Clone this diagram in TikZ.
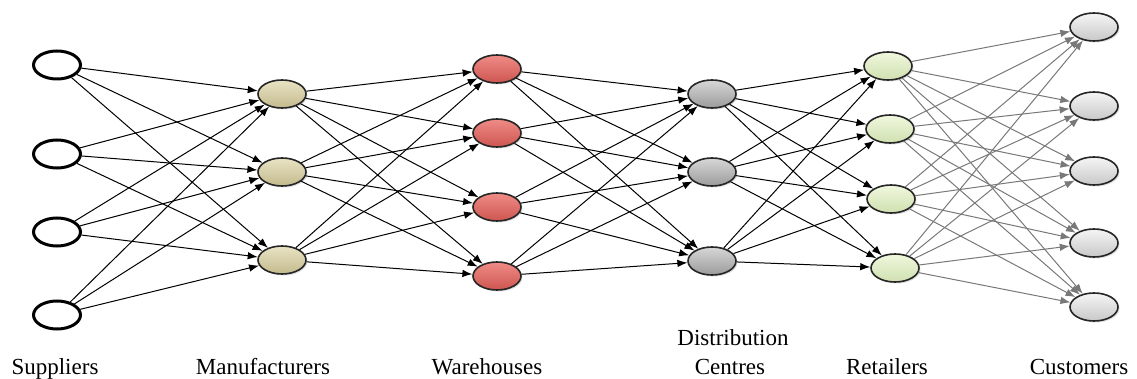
\documentclass[tikz,border=0pt]{standalone}
\usepackage{fontspec}
\setmainfont{Liberation Serif}
\usetikzlibrary{shapes.geometric,arrows.meta,shadows}
\definecolor{manT}{RGB}{232,227,195}
\definecolor{manB}{RGB}{196,186,142}
\definecolor{warT}{RGB}{240,140,135}
\definecolor{warB}{RGB}{205,85,80}
\definecolor{dcT}{RGB}{215,215,215}
\definecolor{dcB}{RGB}{155,155,155}
\definecolor{retT}{RGB}{240,248,222}
\definecolor{retB}{RGB}{208,224,176}
\definecolor{cusT}{RGB}{245,245,245}
\definecolor{cusB}{RGB}{200,200,200}
\definecolor{edgegray}{RGB}{120,120,120}
\tikzset{
  sup/.style={ellipse, draw=black, line width=3pt, fill=white, minimum width=47pt, minimum height=28pt, inner sep=0pt},
  pt/.style={ellipse, draw=black!85, line width=1.6pt, minimum width=48pt, minimum height=28pt, inner sep=0pt,
     drop shadow={shadow xshift=1.5pt, shadow yshift=-1.5pt, opacity=0.25}},
  man/.style={pt, top color=manT, bottom color=manB},
  war/.style={pt, top color=warT, bottom color=warB},
  dc/.style={pt, top color=dcT, bottom color=dcB},
  ret/.style={pt, top color=retT, bottom color=retB},
  cus/.style={pt, top color=cusT, bottom color=cusB},
  link/.style={draw=black, line width=1pt, -{Latex[length=10pt,width=7.5pt]}},
  glink/.style={draw=edgegray, line width=1pt, -{Latex[length=10pt,width=7.5pt]}},
  lbl/.style={font=\fontsize{23}{25}\selectfont, anchor=base, inner sep=0pt}
}
\begin{document}
\begin{tikzpicture}[x=1pt,y=-1pt]
\useasboundingbox (0,0) rectangle (1137,379);
% nodes
\node[sup] (s1) at (57,65) {};
\node[sup] (s2) at (57,154) {};
\node[sup] (s3) at (57,232) {};
\node[sup] (s4) at (57,315) {};
\node[man] (m1) at (282,94) {};
\node[man] (m2) at (282,172) {};
\node[man] (m3) at (282,260) {};
\node[war] (w1) at (497,69) {};
\node[war] (w2) at (497,133) {};
\node[war] (w3) at (497,207) {};
\node[war] (w4) at (497,276) {};
\node[dc] (d1) at (712,94) {};
\node[dc] (d2) at (712,172) {};
\node[dc] (d3) at (712,261) {};
\node[ret] (r1) at (888,66) {};
\node[ret] (r2) at (890,129) {};
\node[ret] (r3) at (891,199) {};
\node[ret] (r4) at (895,268) {};
\node[cus] (c1) at (1094,27) {};
\node[cus] (c2) at (1094,106) {};
\node[cus] (c3) at (1094,171) {};
\node[cus] (c4) at (1094,243) {};
\node[cus] (c5) at (1094,307) {};
% edges
\foreach \a in {1,...,4}{\foreach \b in {1,2,3}{\draw[link] (s\a) -- (m\b);}}
\foreach \a in {1,2,3}{\foreach \b in {1,...,4}{\draw[link] (m\a) -- (w\b);}}
\foreach \a in {1,...,4}{\foreach \b in {1,2,3}{\draw[link] (w\a) -- (d\b);}}
\foreach \a in {1,2,3}{\foreach \b in {1,...,4}{\draw[link] (d\a) -- (r\b);}}
\foreach \a in {1,...,4}{\foreach \b in {1,...,5}{\draw[glink] (r\a) -- (c\b);}}
% labels
\node[lbl] (l1) at (55,374) {Suppliers};
\node[lbl] (l2) at (263,374) {Manufacturers};
\node[lbl] (l3) at (487,374) {Warehouses};
\node[lbl] (l4a) at (733,345) {Distribution};
\node[lbl] (l4b) at (730,374) {Centres};
\node[lbl] (l5) at (887,374) {Retailers};
\node[lbl] (l6) at (1079,374) {Customers};
\end{tikzpicture}
\end{document}
